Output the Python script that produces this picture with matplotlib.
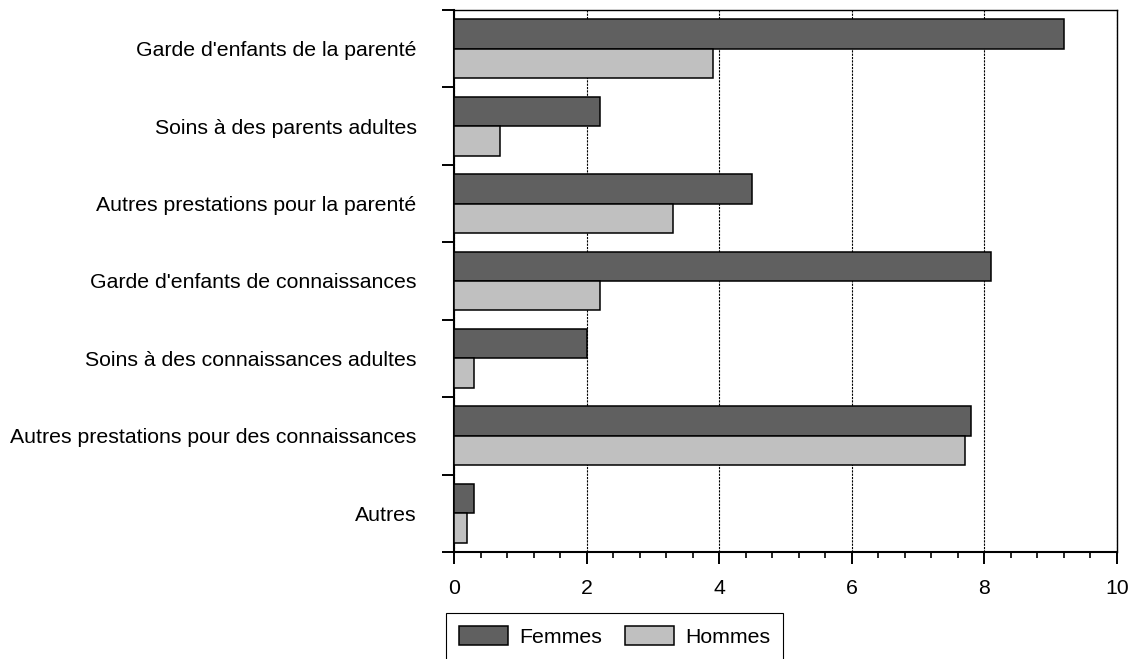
"""
Bar chart: prestations par sexe.
"""

import matplotlib.pyplot as plt
from matplotlib.ticker import MultipleLocator
import numpy as np

plt.rcParams["font.family"] = ["Liberation Sans", "DejaVu Sans"]

categories = [
    "Garde d'enfants de la parenté",
    "Soins à des parents adultes",
    "Autres prestations pour la parenté",
    "Garde d'enfants de connaissances",
    "Soins à des connaissances adultes",
    "Autres prestations pour des connaissances",
    "Autres",
]
femmes = [9.2, 2.2, 4.5, 8.1, 2.0, 7.8, 0.3]
hommes = [3.9, 0.7, 3.3, 2.2, 0.3, 7.7, 0.2]
series_labels = ["Femmes", "Hommes"]
x_ticks = [0, 2, 4, 6, 8, 10]

FS = 15.3


def main():
    fig = plt.figure(figsize=(11.37, 6.59), dpi=100)
    ax = fig.add_axes([0.3993, 0.1624, 0.5831, 0.8224])

    y = np.arange(len(categories))
    h = 0.38
    ax.barh(y - h / 2, femmes, height=h, color="#606060", edgecolor="black",
            linewidth=1.1, label=series_labels[0], zorder=3)
    ax.barh(y + h / 2, hommes, height=h, color="#c0c0c0", edgecolor="black",
            linewidth=1.1, label=series_labels[1], zorder=3)

    ax.set_xlim(0, 10)
    ax.set_ylim(len(categories) - 0.5, -0.5)

    # x axis
    ax.set_xticks(x_ticks)
    ax.xaxis.set_minor_locator(MultipleLocator(0.4))
    ax.tick_params(axis="x", which="major", direction="out", length=8.5, width=1.4,
                   pad=11, labelsize=FS)
    ax.tick_params(axis="x", which="minor", direction="out", length=4.5, width=1.2)
    ax.grid(axis="x", which="major", linestyle=(0, (2, 1)), color="black",
            linewidth=0.8, zorder=0)

    # y axis: labels at centers, ticks on boundaries
    ax.set_yticks(y)
    ax.set_yticklabels(categories)
    ax.set_yticks(np.arange(len(categories) + 1) - 0.5, minor=True)
    ax.tick_params(axis="y", which="major", length=0, pad=27, labelsize=FS)
    ax.tick_params(axis="y", which="minor", direction="out", length=8.5, width=1.4)

    ax.spines["left"].set_linewidth(1.5)
    ax.spines["bottom"].set_linewidth(1.5)
    ax.spines["top"].set_linewidth(1.0)
    ax.spines["right"].set_linewidth(1.0)

    leg = fig.legend(loc="upper left", bbox_to_anchor=(446 / 1137, 1 - 613 / 659),
                     ncol=2, fontsize=FS, frameon=True, fancybox=False,
                     edgecolor="black", framealpha=1, handlelength=2.3,
                     handleheight=1.04, handletextpad=0.56, columnspacing=1.05,
                     borderpad=0.6, borderaxespad=0)
    leg.get_frame().set_linewidth(0.8)

    fig.savefig("out.png", dpi=100)


if __name__ == "__main__":
    main()
